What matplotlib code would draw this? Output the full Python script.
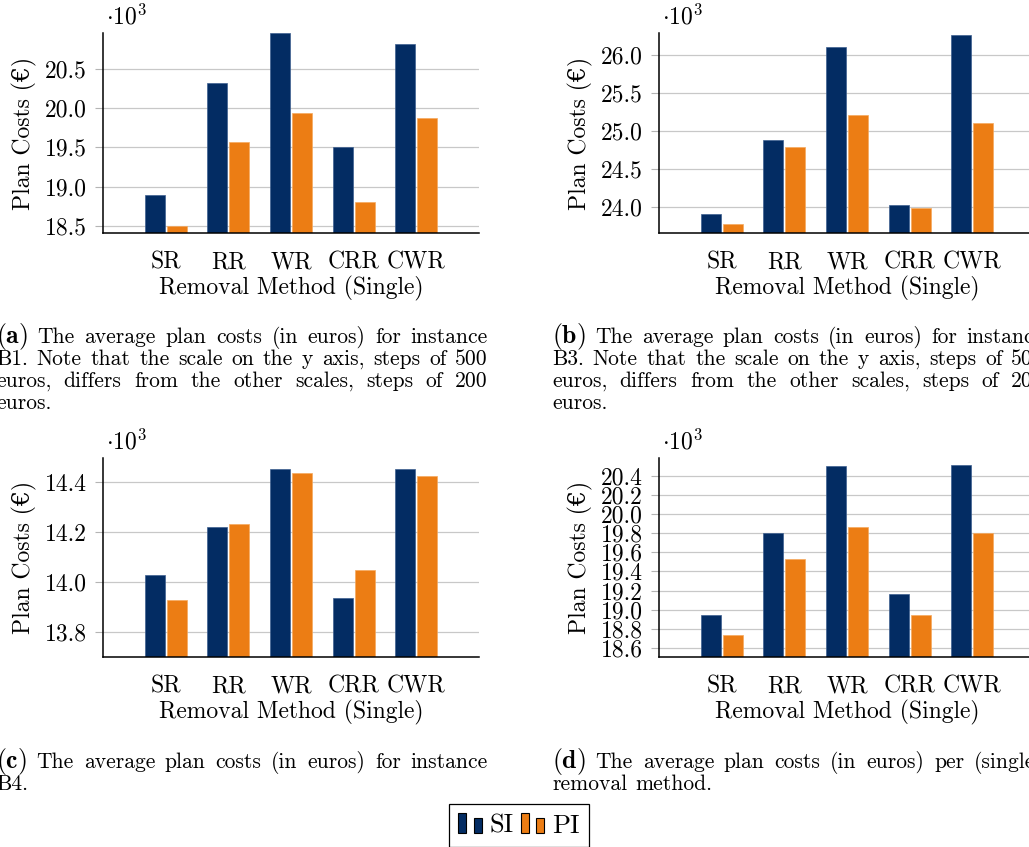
import matplotlib
matplotlib.use('Agg')
import matplotlib.pyplot as plt
import numpy as np
from matplotlib.patches import Rectangle, Patch
from matplotlib.legend_handler import HandlerBase
from matplotlib.ticker import FuncFormatter, MultipleLocator

plt.rcParams['font.family'] = ['cmr10', 'DejaVu Serif']
plt.rcParams['mathtext.fontset'] = 'cm'
plt.rcParams['axes.unicode_minus'] = False

methods = ['SR', 'RR', 'WR', 'CRR', 'CWR']

# average plan costs in euros: SI / PI per removal method
b1_si = [18900, 20320, 20950, 19510, 20810]
b1_pi = [18510, 19570, 19940, 18810, 19870]
b3_si = [23900, 24880, 26100, 24030, 26270]
b3_pi = [23780, 24790, 25210, 23980, 25110]
b4_si = [14028, 14219, 14452, 13935, 14452]
b4_pi = [13927, 14233, 14435, 14047, 14425]
avg_si = [18948, 19801, 20501, 19161, 20508]
avg_pi = [18739, 19533, 19860, 18948, 19801]

cap_a = ['The average plan costs (in euros) for instance',
         'B1. Note that the scale on the y axis, steps of 500',
         'euros, differs from the other scales, steps of 200',
         'euros.']
cap_b = ['The average plan costs (in euros) for instance',
         'B3. Note that the scale on the y axis, steps of 500',
         'euros, differs from the other scales, steps of 200',
         'euros.']
cap_c = ['The average plan costs (in euros) for instance', 'B4.']
cap_d = ['The average plan costs (in euros) per (single)', 'removal method.']

navy = '#032c63'
orange = '#ec7d14'

W, H = 1029, 847
fig = plt.figure(figsize=(W / 100, H / 100), dpi=100)

FS = 17

panels = [
    # left, top, bottom (pixels), si, pi, ylim, step
    (103, 33, 233, b1_si, b1_pi, (18415, 20950), 500),
    (659, 33, 233, b3_si, b3_pi, (23656, 26290), 500),
    (103, 458, 657, b4_si, b4_pi, (13700, 14497), 200),
    (659, 458, 657, avg_si, avg_pi, (18506, 20585), 200),
]

x = np.arange(len(methods))
for left, top, bottom, si, pi, ylim, step in panels:
    ax = fig.add_axes([left / W, 1 - bottom / H, 376 / W, (bottom - top) / H])
    ax.bar(x - 0.175, si, 0.32, color=navy, edgecolor='#3d5f8f', linewidth=0.5, zorder=2)
    ax.bar(x + 0.175, pi, 0.32, color=orange, edgecolor='#f5a95e', linewidth=0.5, zorder=2)
    ax.set_xlim(-1, 5)
    ax.set_ylim(*ylim)
    ax.set_xticks(x)
    ax.set_xticklabels(methods)
    ax.yaxis.set_major_locator(MultipleLocator(step))
    ax.yaxis.set_major_formatter(FuncFormatter(lambda v, p: f'{v / 1000:.1f}'))
    ax.yaxis.grid(True, color='#c8c8c8', linewidth=0.9)
    ax.set_axisbelow(True)
    for s in ['top', 'right']:
        ax.spines[s].set_visible(False)
    for s in ['left', 'bottom']:
        ax.spines[s].set_linewidth(1.1)
    ax.tick_params(axis='y', length=5.5, width=0.8, color='#b4b4b4', pad=6, labelsize=FS)
    ax.tick_params(axis='x', length=0, pad=13, labelsize=FS)
    ax.set_xlabel('Removal Method (Single)', fontsize=FS, labelpad=2)
    ax.set_ylabel('Plan Costs (€)', fontsize=FS, labelpad=6)
    ax.annotate(r'$\cdot10^3$', xy=(0, 1), xycoords='axes fraction', xytext=(2, 6),
                textcoords='offset points', fontsize=FS, va='baseline')

renderer = fig.canvas.get_renderer()
CFS = 15.5


def caption(label, lines, x0, x1, y0, dy):
    for i, line in enumerate(lines):
        y = 1 - (y0 + i * dy) / H
        texts = []
        if i == 0:
            texts.append(fig.text(0, y, r'$\mathbf{(' + label + ')}$', fontsize=CFS + 3, va='baseline'))
        for w in line.split():
            texts.append(fig.text(0, y, w, fontsize=CFS, va='baseline'))
        widths = [t.get_window_extent(renderer).width for t in texts]
        if i < len(lines) - 1:
            gap = (x1 - x0 - sum(widths)) / (len(texts) - 1)
        else:
            gap = CFS * 100 / 72 * 0.36
        xp = x0
        for t, w in zip(texts, widths):
            t.set_x(xp / W)
            xp += w + gap


caption('a', cap_a, -4, 488, 343, 22)
caption('b', cap_b, 552, 1044, 343, 22)
caption('c', cap_c, -4, 488, 768, 22)
caption('d', cap_d, 552, 1044, 768, 22)


class TwoBars(HandlerBase):
    def create_artists(self, legend, orig, xd, yd, w, h, fontsize, trans):
        fc = orig.get_facecolor()
        r1 = Rectangle((-xd, -yd), w * 0.34, h, facecolor=fc, edgecolor='black',
                       linewidth=0.8, transform=trans)
        r2 = Rectangle((-xd + w * 0.66, -yd), w * 0.34, h * 0.78, facecolor=fc,
                       edgecolor='black', linewidth=0.8, transform=trans)
        return [r1, r2]


handles = [Patch(facecolor=navy), Patch(facecolor=orange)]
leg = fig.legend(handles=handles, labels=['SI', 'PI'],
                 handler_map={h: TwoBars() for h in handles},
                 loc='upper center', bbox_to_anchor=(519 / W, 1 - 804 / H), ncol=2,
                 fontsize=19, frameon=True, fancybox=False, edgecolor='black', framealpha=1,
                 handlelength=0.9, handleheight=0.8, handletextpad=0.3, columnspacing=0.25,
                 borderpad=0.35, borderaxespad=0)
leg.get_frame().set_linewidth(0.9)

fig.savefig('out.png', dpi=100)
